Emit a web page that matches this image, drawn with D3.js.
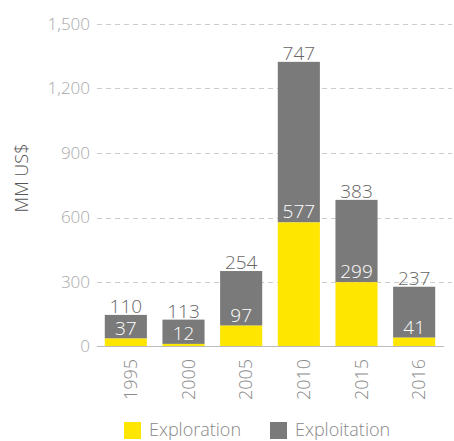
<!DOCTYPE html>
<html>
<head>
<meta charset="utf-8">
<script src="https://cdnjs.cloudflare.com/ajax/libs/d3/7.8.5/d3.min.js"></script>
<style>
  body { margin: 0; background: #fff; }
  svg text { font-family: "Open Sans", "Noto Sans", sans-serif; font-weight: 300; }
</style>
</head>
<body>
<script>
// data
var years = ["1995", "2000", "2005", "2010", "2015", "2016"];
var exploration = [37, 12, 97, 577, 299, 41];
var exploitation = [110, 113, 254, 747, 383, 237];
var yTicks = [0, 300, 600, 900, 1200, 1500];
var seriesNames = ["Exploration", "Exploitation"];
var seriesColors = ["#FFE600", "#7A7A7A"];

var width = 454,
    height = 441;

var svg = d3.select("body").append("svg")
    .attr("width", width)
    .attr("height", height);

var x = d3.scaleBand()
    .domain(years)
    .range([97, 443])
    .paddingInner(0.27)
    .paddingOuter(0.135);

var y = d3.scaleLinear()
    .domain([0, 1500])
    .range([346.5, 24]);

// grid
svg.append("g").selectAll("line")
    .data(yTicks.slice(1))
    .join("line")
    .attr("x1", 97).attr("x2", 452)
    .attr("y1", function(d) { return Math.round(y(d)) + 0.5; })
    .attr("y2", function(d) { return Math.round(y(d)) + 0.5; })
    .attr("stroke", "#cccccc")
    .attr("stroke-width", 1)
    .attr("stroke-dasharray", "5,4");

// y axis labels
var yAxis = svg.append("g")
    .attr("transform", "translate(97,0)")
    .call(d3.axisLeft(y).tickValues(yTicks).tickSize(0).tickPadding(7).tickFormat(d3.format(",")));
yAxis.select(".domain").remove();
yAxis.selectAll("text")
    .attr("fill", "#a8a8a8")
    .style("font-size", "17px");

svg.append("text")
    .attr("transform", "translate(28,178) rotate(-90)")
    .attr("text-anchor", "middle")
    .attr("fill", "#555")
    .style("font-size", "18px")
    .text("MM US$");

var rows = years.map(function(yr, i) {
    return { year: yr, expl: exploration[i], exploit: exploitation[i] };
});

var bars = svg.append("g").selectAll("g")
    .data(rows)
    .join("g");

bars.append("rect")
    .attr("x", function(d) { return x(d.year); })
    .attr("width", x.bandwidth())
    .attr("y", function(d) { return y(d.expl + d.exploit); })
    .attr("height", function(d) { return y(d.expl) - y(d.expl + d.exploit); })
    .attr("fill", seriesColors[1]);

bars.append("rect")
    .attr("x", function(d) { return x(d.year); })
    .attr("width", x.bandwidth())
    .attr("y", function(d) { return y(d.expl); })
    .attr("height", function(d) { return y(0) - y(d.expl); })
    .attr("fill", seriesColors[0]);

// value labels
bars.append("text")
    .attr("x", function(d) { return x(d.year) + x.bandwidth() / 2; })
    .attr("y", function(d) { return y(d.expl + d.exploit) - 2; })
    .attr("text-anchor", "middle")
    .attr("fill", "#666")
    .style("font-size", "19px")
    .text(function(d) { return d.exploit; });

bars.append("text")
    .attr("x", function(d) { return x(d.year) + x.bandwidth() / 2; })
    .attr("y", function(d) { return y(d.expl) - 4; })
    .attr("text-anchor", "middle")
    .attr("fill", "#fff")
    .style("font-size", "19px")
    .text(function(d) { return d.expl; });

// baseline
svg.append("line")
    .attr("x1", 97).attr("x2", 444)
    .attr("y1", 346.5).attr("y2", 346.5)
    .attr("stroke", "#bbbbbb")
    .attr("stroke-width", 1);

// x labels, rotated
svg.append("g").selectAll("text")
    .data(years)
    .join("text")
    .attr("transform", function(d) { return "translate(" + (x(d) + x.bandwidth() / 2 + 5) + ",359) rotate(-90)"; })
    .attr("text-anchor", "end")
    .attr("dy", "0.35em")
    .attr("fill", "#8a8a8a")
    .style("font-size", "18px")
    .text(function(d) { return d; });

// legend
var legendX = [124, 270];
var legend = svg.append("g").selectAll("g")
    .data(seriesNames)
    .join("g")
    .attr("transform", function(d, i) { return "translate(" + legendX[i] + ",422)"; });

legend.append("rect")
    .attr("width", 17).attr("height", 17)
    .attr("fill", function(d, i) { return seriesColors[i]; });

legend.append("text")
    .attr("x", 25)
    .attr("y", 14)
    .attr("fill", "#888")
    .style("font-size", "18px")
    .text(function(d) { return d; });
</script>
</body>
</html>
